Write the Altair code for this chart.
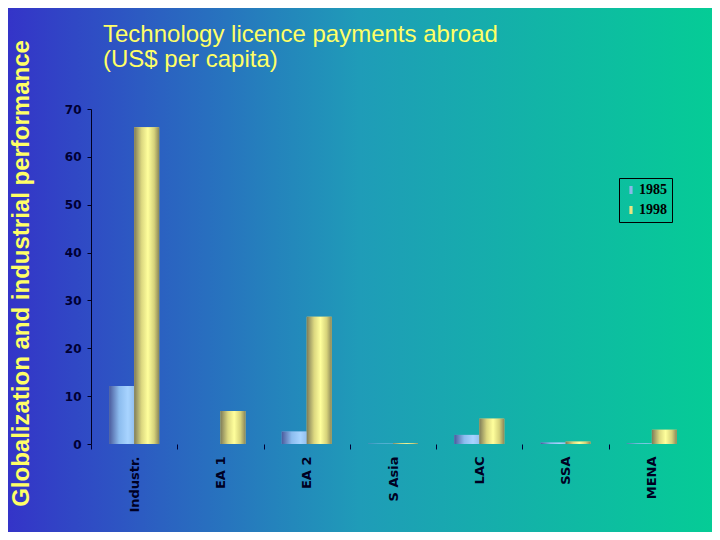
import altair as alt
import pandas as pd

# ---- data ----
categories = ["Industr.", "EA 1", "EA 2", "S Asia", "LAC", "SSA", "MENA"]
years = ["1985", "1998"]
values_1985 = [12.1, 0.0, 2.6, 0.05, 1.9, 0.3, 0.1]
values_1998 = [66.2, 6.9, 26.6, 0.15, 5.3, 0.5, 3.0]
y_ticks = [0, 10, 20, 30, 40, 50, 60, 70]
title_lines = "Technology licence payments abroad\n(US$ per capita)"
side_title = "Globalization and industrial performance"

rows = []
for c, a, b in zip(categories, values_1985, values_1998):
    rows.append({"category": c, "year": "1985", "value": a})
    rows.append({"category": c, "year": "1998", "value": b})
df = pd.DataFrame(rows)

W, H = 604, 335
PAD = {"left": 83, "top": 101, "right": 17, "bottom": 88}
TOTAL_W = W + PAD["left"] + PAD["right"]
TOTAL_H = H + PAD["top"] + PAD["bottom"]
half_step = W / 7 / 2

one = alt.Data(values=[{"a": 1}])

bg_grad = alt.LinearGradient(
    gradient="linear", x1=0, x2=1, y1=0, y2=0,
    stops=[alt.GradientStop(offset=0, color="#3434c8"),
           alt.GradientStop(offset=0.5, color="#1f9cb8"),
           alt.GradientStop(offset=1, color="#05cc96")])

blue_grad = alt.LinearGradient(
    gradient="linear", x1=0, x2=1, y1=0, y2=0,
    stops=[alt.GradientStop(offset=0, color="#4a5a9c"),
           alt.GradientStop(offset=0.4, color="#8cbcee"),
           alt.GradientStop(offset=0.75, color="#a8d4ff"),
           alt.GradientStop(offset=1, color="#94c0ee")])

yellow_grad = alt.LinearGradient(
    gradient="linear", x1=0, x2=1, y1=0, y2=0,
    stops=[alt.GradientStop(offset=0, color="#7e7b58"),
           alt.GradientStop(offset=0.3, color="#dcd880"),
           alt.GradientStop(offset=0.55, color="#ffff9c"),
           alt.GradientStop(offset=0.8, color="#d6d27a"),
           alt.GradientStop(offset=1, color="#8a865a")])

background = alt.Chart(one).mark_rect(fill=bg_grad, clip=False).encode(
    x=alt.value(-PAD["left"]), x2=alt.value(TOTAL_W - PAD["left"]),
    y=alt.value(-PAD["top"]), y2=alt.value(TOTAL_H - PAD["top"]))

x_enc = alt.X("category:N", sort=categories,
              scale=alt.Scale(paddingInner=0.42, paddingOuter=0.21),
              axis=alt.Axis(title=None, labelAngle=270, labelAlign="right",
                            labelBaseline="middle", labelFont="DejaVu Sans",
                            labelFontWeight="bold", labelFontSize=13,
                            labelColor="#000022", domain=False,
                            tickColor="#000033", tickSize=5,
                            tickOffset=-half_step, labelOffset=half_step,
                            labelPadding=7, zindex=2))
xo_enc = alt.XOffset("year:N", scale=alt.Scale(domain=years))
y_enc = alt.Y("value:Q", scale=alt.Scale(domain=[0, 70], nice=False),
              axis=alt.Axis(title=None, values=y_ticks, grid=False,
                            labelFont="DejaVu Sans", labelFontWeight="bold",
                            labelFontSize=12, labelColor="#000033",
                            domainColor="#000022", tickColor="#000022",
                            tickSize=4, labelPadding=6, zindex=2))

legend_bars = alt.Chart(df).mark_bar().encode(
    x=x_enc, xOffset=xo_enc, y=y_enc,
    color=alt.Color("year:N",
                    scale=alt.Scale(domain=years, range=["#8ab8e8", "#eae482"]),
                    legend=alt.Legend(orient="none", legendX=528, legendY=69,
                                      title=None, strokeColor="#000000",
                                      padding=5, rowPadding=6,
                                      symbolType="M-0.4,-1H0.4V1H-0.4Z",
                                      symbolSize=64, symbolStrokeWidth=0,
                                      labelFont="Liberation Serif",
                                      labelFontWeight="bold", labelFontSize=14,
                                      labelColor="#000000", labelOffset=1,
                                      zindex=2)))

bars_85 = alt.Chart(df).transform_filter(alt.datum.year == "1985").mark_bar(
    fill=blue_grad).encode(x=x_enc, xOffset=xo_enc, y=y_enc)
bars_98 = alt.Chart(df).transform_filter(alt.datum.year == "1998").mark_bar(
    fill=yellow_grad).encode(x=x_enc, xOffset=xo_enc, y=y_enc)

title_text = alt.Chart(one).mark_text(
    align="left", baseline="alphabetic", font="Liberation Sans", fontSize=24,
    color="#ffff66", lineBreak="\n", lineHeight=25).encode(
    x=alt.value(12), y=alt.value(-67), text=alt.value(title_lines))

side_text = alt.Chart(one).mark_text(
    angle=270, align="center", baseline="alphabetic", font="Liberation Sans",
    fontWeight="bold", fontSize=24, color="#ffff66").encode(
    x=alt.value(-62), y=alt.value(164.5), text=alt.value(side_title))

chart = alt.layer(background, legend_bars, bars_85, bars_98, title_text,
                  side_text).properties(
    width=W, height=H, padding=PAD,
    autosize=alt.AutoSizeParams(type="none"),
    background="#1f9cb8",
).configure_view(stroke=None)

chart.save("out.html", embed_options={"renderer": "svg", "actions": False})
